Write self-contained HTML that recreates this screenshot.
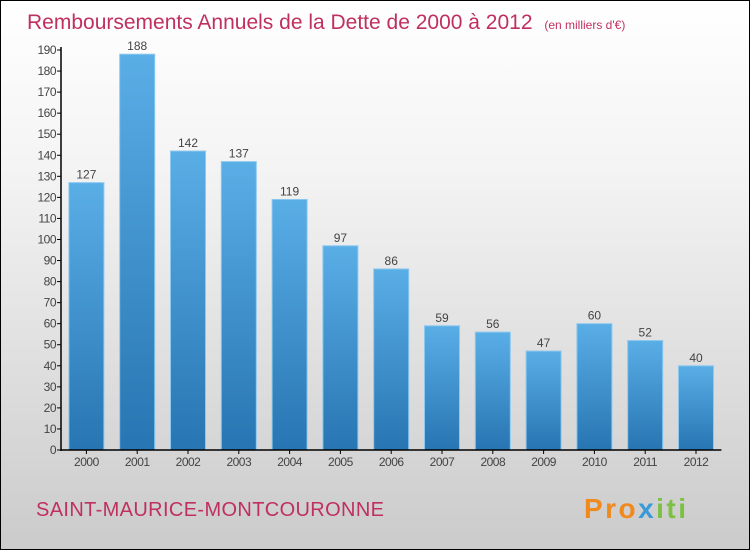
<!DOCTYPE html>
<html><head><meta charset="utf-8"><style>
body{margin:0;}
#c{width:748px;height:548px;border:1px solid #000;background:linear-gradient(#fff,#f4f4f4 30%,#cbcbcb);position:relative;overflow:hidden;font-family:"Liberation Sans",sans-serif;}
</style></head><body>
<div id="c">
<svg id="s" width="748" height="548" xmlns="http://www.w3.org/2000/svg">
<defs><linearGradient id="g" x1="0" y1="0" x2="0" y2="1"><stop offset="0" stop-color="#5aaee6"/><stop offset="1" stop-color="#2775b2"/></linearGradient></defs>
<text x="26" y="28" font-size="21" fill="#c0305f">Remboursements Annuels de la Dette de 2000 à 2012 <tspan font-size="12" dx="6">(en milliers d'€)</tspan></text>
<text x="35" y="515" font-size="20" fill="#c0305f" textLength="348">SAINT-MAURICE-MONTCOURONNE</text>
<text x="583" y="517" font-size="28" font-weight="bold" fill="#f08a1e" textLength="102">Pro<tspan fill="#3a9ad9">x</tspan><tspan fill="#7cc142">iti</tspan></text>
<g id="plot"></g>
</svg></div>
<script>
const years=["2000","2001","2002","2003","2004","2005","2006","2007","2008","2009","2010","2011","2012"];
const values=[127,188,142,137,119,97,86,59,56,47,60,52,40];
const yTicks=[0,10,20,30,40,50,60,70,80,90,100,110,120,130,140,150,160,170,180,190];
const NS="http://www.w3.org/2000/svg";
const g=document.getElementById('plot');
const x0=60,step=50.8,bw=35,y0=449,ppu=400/190;
const y=v=>y0-v*ppu;
const xc=i=>x0+(i+0.5)*step;
function mk(t,a){const e=document.createElementNS(NS,t);for(const k in a)e.setAttribute(k,a[k]);g.appendChild(e);return e;}
yTicks.forEach(v=>{
 const l=mk('line',{x1:x0-4,x2:x0,y1:y(v),y2:y(v),stroke:'#000'});
 
 
 const t=mk('text',{x:x0-5,y:y(v)+4,'font-size':12,'text-anchor':'end',fill:'#444','letter-spacing':'-0.5'});
 t.textContent=v;
 
 
});
values.forEach((v,i)=>{
 const r=mk('rect',{x:xc(i)-bw/2,y:y(v),width:bw,height:v*ppu,fill:'url(#g)',stroke:'#8cc8f0','stroke-width':1});
 
 
 const t=mk('text',{x:xc(i),y:y(v)-4,'font-size':12,'text-anchor':'middle',fill:'#444'});
 t.textContent=v;
 
 
 const tl=mk('line',{x1:xc(i),x2:xc(i),y1:y0,y2:y0+4,stroke:'#000'});
 
 
 const xt=mk('text',{x:xc(i),y:y0+16,'font-size':12,'text-anchor':'middle',fill:'#444','letter-spacing':'-0.5'});
 xt.textContent=years[i];
 
 
});
const ya=mk('line',{x1:x0,x2:x0,y1:y(190)-3,y2:y0+1,stroke:'#000','stroke-width':1.5});


const xa=mk('line',{x1:x0,x2:x0+13*step,y1:y0,y2:y0,stroke:'#000','stroke-width':1.5});


</script>
</body></html>
